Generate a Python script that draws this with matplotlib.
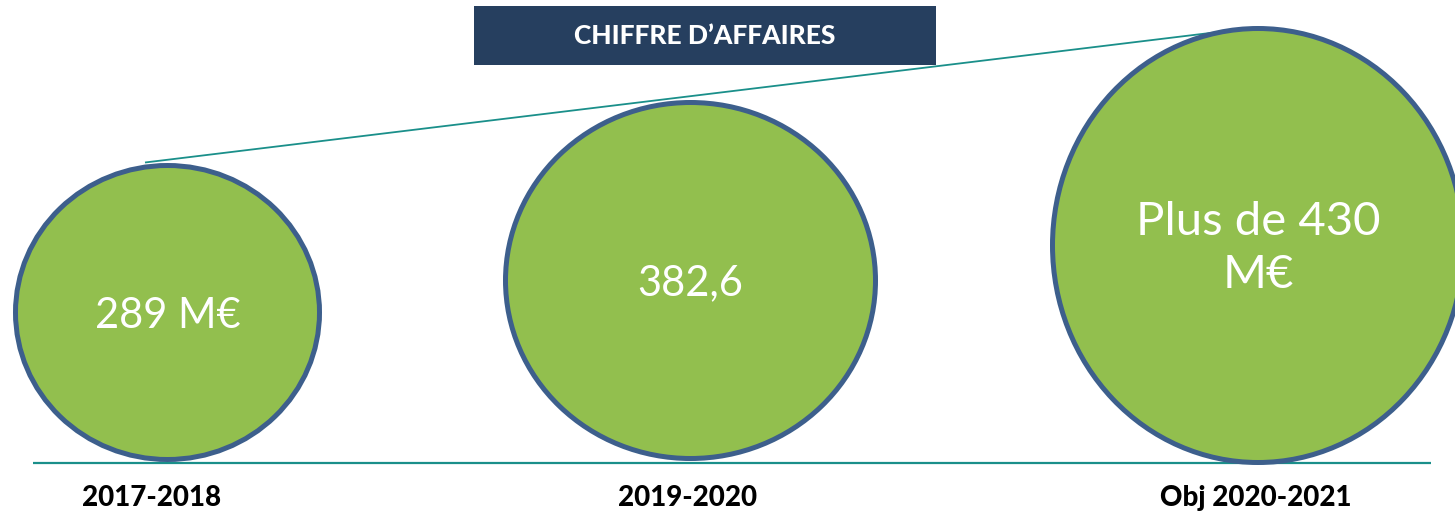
import matplotlib
matplotlib.use("Agg")
import matplotlib.pyplot as plt
from matplotlib.patches import Ellipse, Rectangle

# ---- data ----
periods = ["2017-2018", "2019-2020", "Obj 2020-2021"]
values = [289, 382.6, 430]
value_labels = ["289 M€", "382,6", "Plus de 430\nM€"]
title = "CHIFFRE D’AFFAIRES"

# ---- layout (pixel coordinates of the 1455x516 canvas) ----
W, H = 1455, 516
centers_x = [167.5, 690.5, 1258]
centers_y = [312.5, 280.5, 245.5]
widths = [304, 370, 411]
heights = [294, 356, 434]
value_fs = [30, 30, 34]
label_x = [152, 688, 1256]
label_y = 498
baseline_y = 463

green = "#92BF4E"
outline = "#3D5F8C"
teal = "#1A8F8A"
navy = "#263F5F"

plt.rcParams['font.family'] = ['Lato', 'DejaVu Sans']

fig = plt.figure(figsize=(W / 100, H / 100), dpi=100)
ax = fig.add_axes([0, 0, 1, 1])
ax.set_xlim(0, W)
ax.set_ylim(H, 0)
ax.axis("off")

# diagonal teal line
ax.plot([145, 1210], [162.5, 33], color=teal, lw=1.3, zorder=1, solid_capstyle="butt")
# baseline
ax.plot([33, 1431], [baseline_y, baseline_y], color=teal, lw=1.6, zorder=1, solid_capstyle="butt")

for cx, cy, w, h, lab, fs in zip(centers_x, centers_y, widths, heights, value_labels, value_fs):
    e = Ellipse((cx, cy), w, h, facecolor=green, edgecolor=outline, lw=3.6, zorder=2)
    ax.add_patch(e)
    ax.text(cx, cy + 3, lab, color="white", fontsize=fs, ha="center", va="center",
            linespacing=1.3, zorder=3)

for x, p in zip(label_x, periods):
    ax.text(x, label_y, p, fontsize=20, fontweight="black", color="black",
            ha="center", va="center", zorder=3)

# title box
ax.add_patch(Rectangle((474, 6), 462, 59, facecolor=navy, edgecolor="none", zorder=4))
ax.text(705, 36, title, color="white", fontsize=19, fontweight="black",
        ha="center", va="center", zorder=5)

fig.savefig("out.png", dpi=100)
